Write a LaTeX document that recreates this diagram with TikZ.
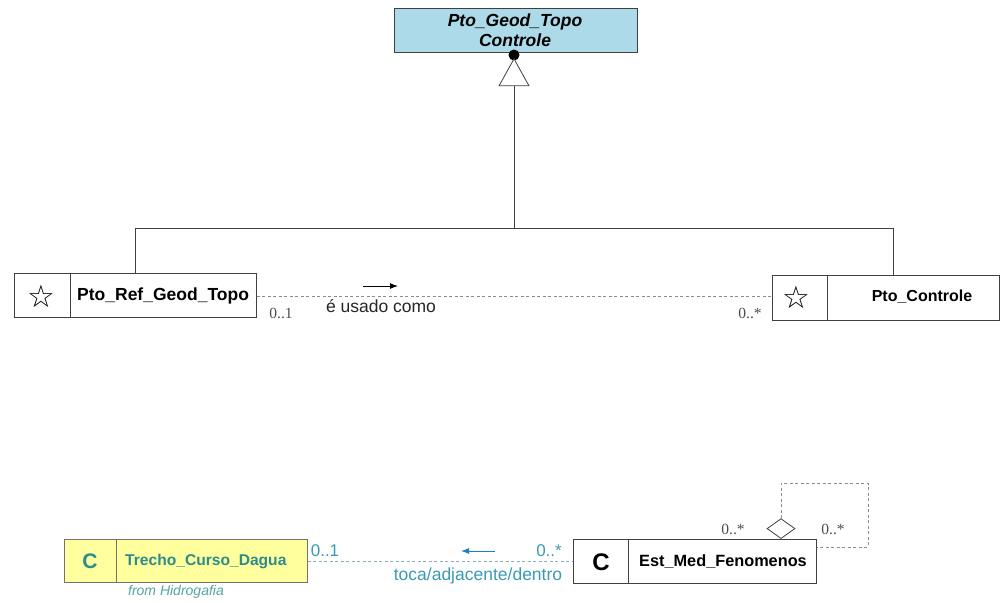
\documentclass[tikz,border=0pt]{standalone}
\usepackage{fontspec}
\setmainfont{Liberation Sans}
\newfontfamily\serifnum{Liberation Serif}
\newfontfamily\symfont{DejaVu Sans}
\usetikzlibrary{arrows.meta,shapes.geometric}
\definecolor{topblue}{HTML}{ADDAE8}
\definecolor{hyellow}{HTML}{FFFF9E}
\definecolor{teal}{HTML}{2C8C8C}
\definecolor{lteal}{HTML}{3A9AB5}
\definecolor{arrblue}{HTML}{1E7FC0}
\begin{document}
\begin{tikzpicture}[x=1pt,y=-1pt,
  boxline/.style={draw=black!75,line width=0.8pt},
  dashline/.style={draw=black!45,dashed,dash pattern=on 3pt off 2.5pt,line width=0.7pt},
  mult/.style={font=\serifnum\fontsize{15.5}{15.5}\selectfont,text=black!70,inner sep=0pt},
  cname/.style={font=\bfseries\fontsize{16}{16}\selectfont,inner sep=0pt},
  starsym/.style={font=\symfont\fontsize{31}{31}\selectfont,inner sep=0pt},
  gen/.style={draw=black!75,line width=0.8pt}]
\useasboundingbox (0,0) rectangle (1000,602);
% top abstract class
\node[boxline,fill=topblue,minimum width=243pt,minimum height=44pt,anchor=north west,inner sep=0pt] (top) at (394,8) {};
\node[font=\bfseries\itshape\fontsize{17.5}{20}\selectfont,align=center,inner sep=0pt] (toptxt) at (515,30) {Pto\_Geod\_Topo\\Controle};
\fill (514,55) circle (5.5pt);
\node[draw=black!75,fill=white,line width=0.8pt,isosceles triangle,isosceles triangle apex angle=58,shape border rotate=90,minimum height=27pt,inner sep=0pt,anchor=apex] (tri) at (514,58) {};
\coordinate (junc) at (514,228);
\draw[gen] (tri.south) -- (junc);
% left class
\node[boxline,minimum width=242pt,minimum height=44pt,anchor=north west,inner sep=0pt] (ref) at (14,273) {};
\draw[boxline] (70,273) -- (70,317);
\node[starsym] (refstar) at (41,296) {☆};
\node[cname,font=\bfseries\fontsize{17.5}{17.5}\selectfont,anchor=west] (reftxt) at (77,296) {Pto\_Ref\_Geod\_Topo};
% right class
\node[boxline,minimum width=227pt,minimum height=45pt,anchor=north west,inner sep=0pt] (ctl) at (772,275) {};
\draw[boxline] (827,275) -- (827,320);
\node[starsym] (ctlstar) at (796,297) {☆};
\node[cname] (ctltxt) at (922,297) {Pto\_Controle};
% generalisation links
\coordinate (gl) at (135,228);
\coordinate (gr) at (893,228);
\draw[gen] (ref.north -| gl) -- (gl) -- (gr) -- (ctl.north -| gr);
% association
\draw[dashline] (ref.east |- 0,296) -- (ctl.west |- 0,296);
\coordinate (a1) at (363,286);
\coordinate (a2) at (398,286);
\draw[line width=1pt,-{Latex[length=8pt,width=6pt]}] (a1) -- (a2);
\node[font=\fontsize{17.5}{17.5}\selectfont,text=black!85,inner sep=0pt] (lbl1) at (381,306) {é usado como};
\node[mult] (m1) at (281,313) {0..1};
\node[mult] (m2) at (750,313) {0..*};
% bottom left class (Hidrografia)
\node[draw=black!55,line width=0.8pt,fill=hyellow,minimum width=243pt,minimum height=43pt,anchor=north west,inner sep=0pt] (tre) at (64,539) {};
\draw[draw=black!55,line width=0.8pt] (116,539) -- (116,582);
\node[font=\bfseries\fontsize{21}{21}\selectfont,text=teal,inner sep=0pt] (trec) at (90,561) {C};
\node[cname,font=\bfseries\fontsize{15.6}{15.6}\selectfont,text=teal,anchor=west] (tretxt) at (125,561) {Trecho\_Curso\_Dagua};
\node[font=\itshape\fontsize{14}{14}\selectfont,text=teal!80,inner sep=0pt] (from) at (176,592) {from Hidrogafia};
% Est_Med_Fenomenos
\node[boxline,minimum width=243pt,minimum height=44pt,anchor=north west,inner sep=0pt] (est) at (573,539) {};
\draw[boxline] (628,539) -- (628,583);
\node[font=\bfseries\fontsize{24}{24}\selectfont,inner sep=0pt] (estc) at (601,562) {C};
\node[cname,font=\bfseries\fontsize{16.3}{16.3}\selectfont] (esttxt) at (723,562) {Est\_Med\_Fenomenos};
% association toca
\draw[dashline,draw=lteal!60!black!50] (tre.east |- 0,561) -- (est.west |- 0,561);
\coordinate (b1) at (495,551);
\coordinate (b2) at (461,551);
\draw[draw=arrblue,line width=1pt,-{Latex[length=8pt,width=6pt]}] (b1) -- (b2);
\node[font=\fontsize{17}{17}\selectfont,text=lteal,inner sep=0pt] (m3) at (325,551) {0..1};
\node[font=\fontsize{17}{17}\selectfont,text=lteal,inner sep=0pt] (m4) at (549,551) {0..*};
\node[font=\fontsize{17.5}{17.5}\selectfont,text=lteal,inner sep=0pt] (lbl2) at (478,576) {toca/adjacente/dentro};
% self aggregation
\node[draw=black!75,fill=white,line width=0.8pt,diamond,minimum width=28pt,minimum height=20pt,inner sep=0pt,anchor=south] (dia) at (781,539) {};
\coordinate (s1) at (781,483);
\coordinate (s2) at (868,483);
\coordinate (s3) at (868,547);
\draw[dashline] (dia.north) -- (s1) -- (s2) -- (s3) -- (est.east |- s3);
\node[mult] (m5) at (733,529) {0..*};
\node[mult] (m6) at (833,529) {0..*};
\end{tikzpicture}
\end{document}
